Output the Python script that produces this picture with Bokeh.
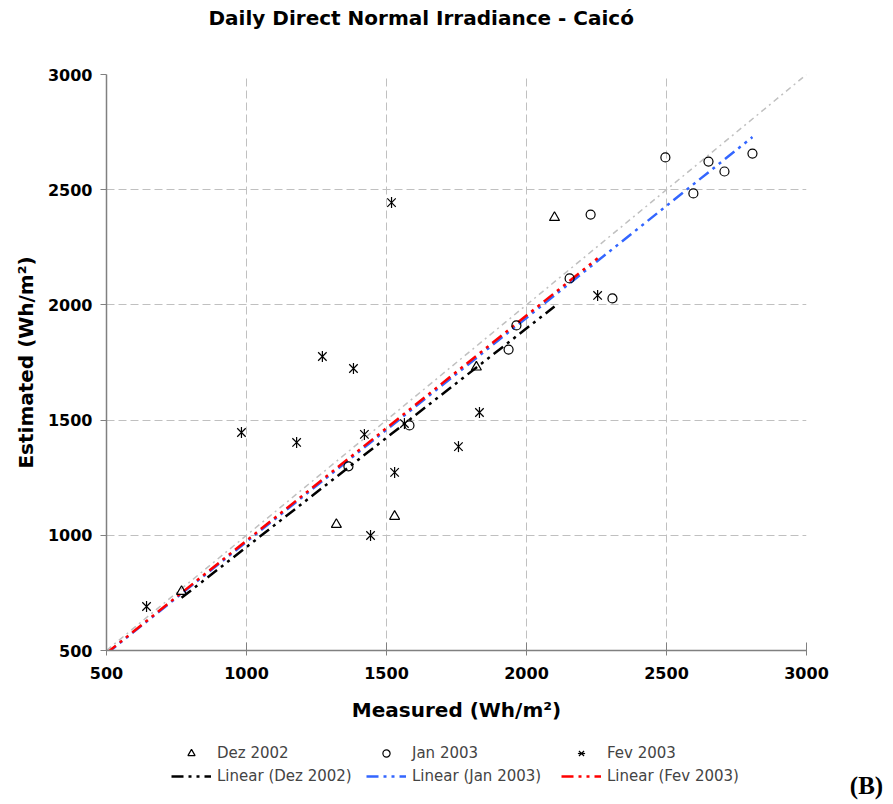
import numpy as np
from bokeh.plotting import figure
from bokeh.models import Range1d, FixedTicker, Legend, LegendItem, Label
from bokeh.embed import file_html
from bokeh.resources import INLINE

# ---- data ----
dez_measured = [768, 1321, 1529, 1821, 2100]
dez_estimated = [756, 1047, 1082, 1730, 2379]
jan_measured = [1364, 1582, 1936, 1964, 2154, 2229, 2307, 2496, 2596, 2650, 2707, 2807]
jan_estimated = [1299, 1477, 1806, 1911, 2115, 2392, 2028, 2640, 2484, 2622, 2579, 2657]
fev_measured = [643, 982, 1179, 1271, 1382, 1421, 1443, 1518, 1529, 1564, 1757, 1832, 2254]
fev_estimated = [691, 1446, 1403, 1776, 1724, 1438, 999, 2444, 1273, 1485, 1385, 1533, 2041]

series_names = ["Dez 2002", "Jan 2003", "Fev 2003"]
trend_slopes = [0.949, 0.972, 0.977]      # linear trendlines through the origin
trend_start = [768, 500, 500]
trend_end = [2100, 2807, 2254]
ticks = [500, 1000, 1500, 2000, 2500, 3000]
identity = [500, 3000]

FONT = "DejaVu Sans"
W = 892
TREND_DASH = "12 5 3 5 3 5"
trend_colors = ["black", "#3366ff", "#ff0000"]
MK = dict(line_color="black", line_width=1.2)


def strip(height):
    f = figure(width=W, height=height, output_backend="svg", toolbar_location=None,
               x_range=Range1d(0, 1), y_range=Range1d(0, 1), min_border=0,
               x_axis_type=None, y_axis_type=None)
    f.outline_line_color = None
    f.grid.visible = False
    f.background_fill_color = "white"
    f.border_fill_color = "white"
    return f


def draw_series(f):
    """Draw the three series and their trendlines on figure f."""
    rs = {}
    rs["id"] = f.line(identity, identity, line_color="#c0c0c0", line_width=1.5,
                      line_dash="6 4 2 4")
    rs["trend"] = []
    for i in range(3):
        xs = [trend_start[i], trend_end[i]]
        ys = [trend_slopes[i] * x for x in xs]
        rs["trend"].append(f.line(xs, ys, line_color=trend_colors[i], line_width=2.5,
                                  line_dash=TREND_DASH))
    rs["dez"] = f.scatter(dez_measured, dez_estimated, marker="triangle", size=10,
                          fill_color=None, **MK)
    rs["jan"] = f.scatter(jan_measured, jan_estimated, marker="circle", size=9,
                          fill_color=None, **MK)
    rs["fev"] = [f.scatter(fev_measured, fev_estimated, marker="x", size=12, **MK),
                 f.scatter(fev_measured, fev_estimated, marker="dash",
                           angle=np.pi / 2, size=11, **MK)]
    return rs


# ---- title strip ----
t = strip(30)
t.add_layout(Label(x=208, y=13, x_units="screen", y_units="screen",
                   text="Daily Direct Normal Irradiance - Caicó",
                   text_font=FONT, text_font_style="bold", text_font_size="20px",
                   text_baseline="middle", text_color="black"))

# ---- main chart ----
p = figure(width=W, height=695, output_backend="svg", toolbar_location=None,
           x_range=Range1d(500, 3000), y_range=Range1d(500, 3000),
           min_border_left=106, min_border_right=W - 806, min_border_top=44,
           min_border_bottom=75)
p.outline_line_color = None
p.background_fill_color = "white"
p.border_fill_color = "white"

for ax in (p.xaxis[0], p.yaxis[0]):
    ax.ticker = FixedTicker(ticks=ticks)
    ax.axis_line_color = "#808080"
    ax.axis_line_width = 1.5
    ax.major_tick_line_color = "#808080"
    ax.major_tick_line_width = 1
    ax.minor_tick_line_color = None
    ax.major_label_text_font = FONT
    ax.major_label_text_font_style = "bold"
    ax.major_label_text_font_size = "16px"
    ax.major_label_text_color = "black"
    ax.axis_label_text_font = FONT
    ax.axis_label_text_font_style = "bold"
    ax.axis_label_text_font_size = "20px"
    ax.axis_label_text_color = "black"

p.xaxis.axis_label = "Measured (Wh/m²)"
p.yaxis.axis_label = "Estimated (Wh/m²)"
p.xaxis.major_tick_in = 8
p.xaxis.major_tick_out = 5
p.yaxis.major_tick_in = 0
p.yaxis.major_tick_out = 6
p.xaxis.major_label_standoff = 11
p.yaxis.major_label_standoff = 8
p.xaxis.axis_label_standoff = 16
p.yaxis.axis_label_standoff = 7

p.grid.grid_line_color = "#c0c0c0"
p.grid.grid_line_dash = "8 4"
p.grid.grid_line_width = 1

draw_series(p)

# ---- legend strip (same series, outside this strip's ranges, so only the
#      legend glyphs show) ----
q = strip(78)
rq = draw_series(q)

legend_kw = dict(orientation="horizontal", border_line_color=None,
                 background_fill_alpha=0, padding=0, margin=0, spacing=9,
                 glyph_width=40, glyph_height=18, label_height=18,
                 label_width=140, label_standoff=6,
                 label_text_font=FONT, label_text_font_size="15px")
leg1 = Legend(items=[LegendItem(label=series_names[0], renderers=[rq["dez"]]),
                     LegendItem(label=series_names[1], renderers=[rq["jan"]]),
                     LegendItem(label=series_names[2], renderers=rq["fev"])],
              location=(171, 41), **legend_kw)
leg2 = Legend(items=[LegendItem(label="Linear (" + n + ")", renderers=[r])
                     for n, r in zip(series_names, rq["trend"])],
              location=(171, 18), **legend_kw)
q.add_layout(leg1)
q.add_layout(leg2)

q.add_layout(Label(x=866, y=18, x_units="screen", y_units="screen", text="(B)",
                   text_font="Liberation Serif", text_font_style="bold",
                   text_font_size="25px", text_align="center",
                   text_baseline="middle", text_color="black"))

open("out.html", "w").write(file_html([t, p, q], INLINE))
